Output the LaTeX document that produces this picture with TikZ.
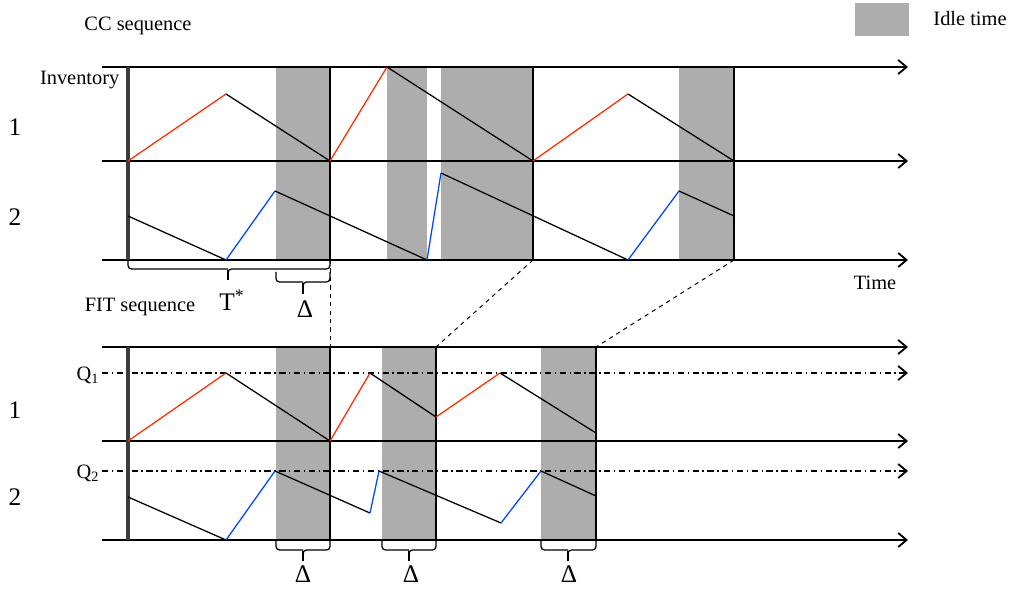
\documentclass[tikz,border=0pt]{standalone}
\usepackage{fontspec}
\setmainfont{Liberation Serif}
\usepackage{tikz}
\usetikzlibrary{arrows.meta}
\definecolor{idlegray}{RGB}{173,173,173}
\definecolor{prodred}{RGB}{255,45,0}
\definecolor{prodblue}{RGB}{0,70,255}
\definecolor{spinegray}{RGB}{60,60,60}
\tikzset{
  axis/.style={-{Straight Barb[length=6pt,width=10pt,line width=1.3pt]}, line width=0.9pt, color=black},
  levelline/.style={axis, dash pattern=on 4.5pt off 2.5pt on 1pt off 2.5pt},
  spine/.style={line width=2.2pt, color=spinegray},
  cycleend/.style={line width=0.9pt, color=black},
  idle/.style={fill=idlegray, draw=none},
  fillone/.style={line width=0.9pt, color=prodred},
  filltwo/.style={line width=0.9pt, color=prodblue},
  deplete/.style={line width=0.9pt, color=black},
  link/.style={dashed, line width=0.7pt, color=black},
  bracket/.style={line width=0.9pt, rounded corners=2.5pt, color=black},
  stem/.style={line width=1.6pt, color=black},
  lbl/.style={font=\fontsize{14.5}{16}\selectfont, inner sep=1pt},
  biglbl/.style={font=\fontsize{18}{20}\selectfont, inner sep=0pt},
  rowlbl/.style={font=\fontsize{18}{20}\selectfont, inner sep=1pt}
}
\begin{document}
\begin{tikzpicture}[x=0.025cm, y=-0.025cm]
  \useasboundingbox (0,0) rectangle (1011,589);

  % Legend
  \fill[idle] (855,3) rectangle (909,36);
  \node[lbl] (idlelbl) at (970,19) {Idle time};

  % ---------------- CC sequence ----------------
  \node[lbl] (cctitle) at (138,26) {CC sequence};
  \node[lbl, anchor=east] (invlbl) at (121,80) {Inventory};
  \node[rowlbl] (ccone) at (15,127) {1};
  \node[rowlbl] (cctwo) at (15,217) {2};
  \node[lbl] (timelbl) at (875,283) {Time};

  % Idle periods
  \fill[idle] (276,67) rectangle (330,260);
  \fill[idle] (387,67) rectangle (427,260);
  \fill[idle] (441,67) rectangle (533,260);
  \fill[idle] (679,67) rectangle (734,260);

  % Axes
  \draw[axis] (102,67) -- (908,67);
  \draw[axis] (102,161) -- (908,161);
  \draw[axis] (102,260) -- (908,260);
  \draw[spine] (128,67) -- (128,260);

  % Cycle ends
  \coordinate (ccend1) at (330,260);
  \coordinate (ccend2) at (533,260);
  \coordinate (ccend3) at (734,260);
  \draw[cycleend] (330,67) -- (ccend1);
  \draw[cycleend] (533,67) -- (ccend2);
  \draw[cycleend] (734,67) -- (ccend3);

  % Product 1
  \draw[fillone] (128,161) -- (226,94);
  \draw[deplete] (226,94) -- (330,161);
  \draw[fillone] (330,161) -- (387,67);
  \draw[deplete] (387,67) -- (533,161);
  \draw[fillone] (533,161) -- (628,94);
  \draw[deplete] (628,94) -- (734,161);

  % Product 2
  \draw[deplete] (128,216) -- (226,260);
  \draw[filltwo] (226,260) -- (275,191);
  \draw[deplete] (275,191) -- (427,260);
  \draw[filltwo] (427,260) -- (441,173);
  \draw[deplete] (441,173) -- (628,260);
  \draw[filltwo] (628,260) -- (679,191);
  \draw[deplete] (679,191) -- (734,216);

  % Cycle time and idle time
  \draw[bracket] (128,261) |- (228,269);
  \draw[bracket] (330,261) |- (228,269) -- (228,273);
  \draw[stem] (228,270) -- (228,280);
  \node[biglbl] (tstar) at (232,300) {T\textsuperscript{*}};
  \draw[bracket] (276,272) |- (303,282);
  \draw[bracket] (330,272) |- (303,282) -- (303,286);
  \draw[stem] (303,283) -- (303,294);
  \node[biglbl] (ccdelta) at (305,309) {Δ};

  % ---------------- FIT sequence ----------------
  \node[lbl] (fittitle) at (140,307) {FIT sequence};
  \node[lbl, anchor=east] (qone) at (101,375) {Q\textsubscript{1}};
  \node[lbl, anchor=east] (qtwo) at (101,473) {Q\textsubscript{2}};
  \node[rowlbl] (fitone) at (15,410) {1};
  \node[rowlbl] (fittwo) at (15,497) {2};

  % Idle periods
  \fill[idle] (276,347) rectangle (330,540);
  \fill[idle] (382,347) rectangle (436,540);
  \fill[idle] (541,347) rectangle (596,540);

  % Axes and order-up-to levels
  \draw[axis] (102,347) -- (908,347);
  \draw[levelline] (102,373) -- (908,373);
  \draw[axis] (102,441) -- (908,441);
  \draw[levelline] (102,471) -- (908,471);
  \draw[axis] (102,540) -- (908,540);
  \draw[spine] (128,347) -- (128,540);

  % Cycle ends
  \coordinate (fitend1) at (330,347);
  \coordinate (fitend2) at (436,347);
  \coordinate (fitend3) at (596,347);
  \draw[cycleend] (fitend1) -- (330,540);
  \draw[cycleend] (fitend2) -- (436,540);
  \draw[cycleend] (fitend3) -- (596,540);

  % Product 1
  \draw[fillone] (128,441) -- (226,373);
  \draw[deplete] (226,373) -- (330,441);
  \draw[fillone] (330,441) -- (370,373);
  \draw[deplete] (370,373) -- (436,417);
  \draw[fillone] (436,417) -- (500,373);
  \draw[deplete] (500,373) -- (596,433);

  % Product 2
  \draw[deplete] (128,497) -- (226,540);
  \draw[filltwo] (226,540) -- (275,471);
  \draw[deplete] (275,471) -- (370,513);
  \draw[filltwo] (370,513) -- (379,471);
  \draw[deplete] (379,471) -- (501,523);
  \draw[filltwo] (501,523) -- (541,471);
  \draw[deplete] (541,471) -- (596,496);

  % Idle times
  \draw[bracket] (276,541) |- (303,550);
  \draw[bracket] (330,541) |- (303,550) -- (303,554);
  \draw[stem] (303,551) -- (303,561);
  \node[biglbl] (fitdelta1) at (303,574) {Δ};
  \draw[bracket] (382,541) |- (409,550);
  \draw[bracket] (436,541) |- (409,550) -- (409,554);
  \draw[stem] (409,551) -- (409,561);
  \node[biglbl] (fitdelta2) at (411,574) {Δ};
  \draw[bracket] (541,541) |- (568,550);
  \draw[bracket] (596,541) |- (568,550) -- (568,554);
  \draw[stem] (568,551) -- (568,561);
  \node[biglbl] (fitdelta3) at (569,574) {Δ};

  % Links between the sequences
  \draw[link] (ccend1) -- (fitend1);
  \draw[link] (ccend2) -- (fitend2);
  \draw[link] (ccend3) -- (fitend3);
\end{tikzpicture}
\end{document}
